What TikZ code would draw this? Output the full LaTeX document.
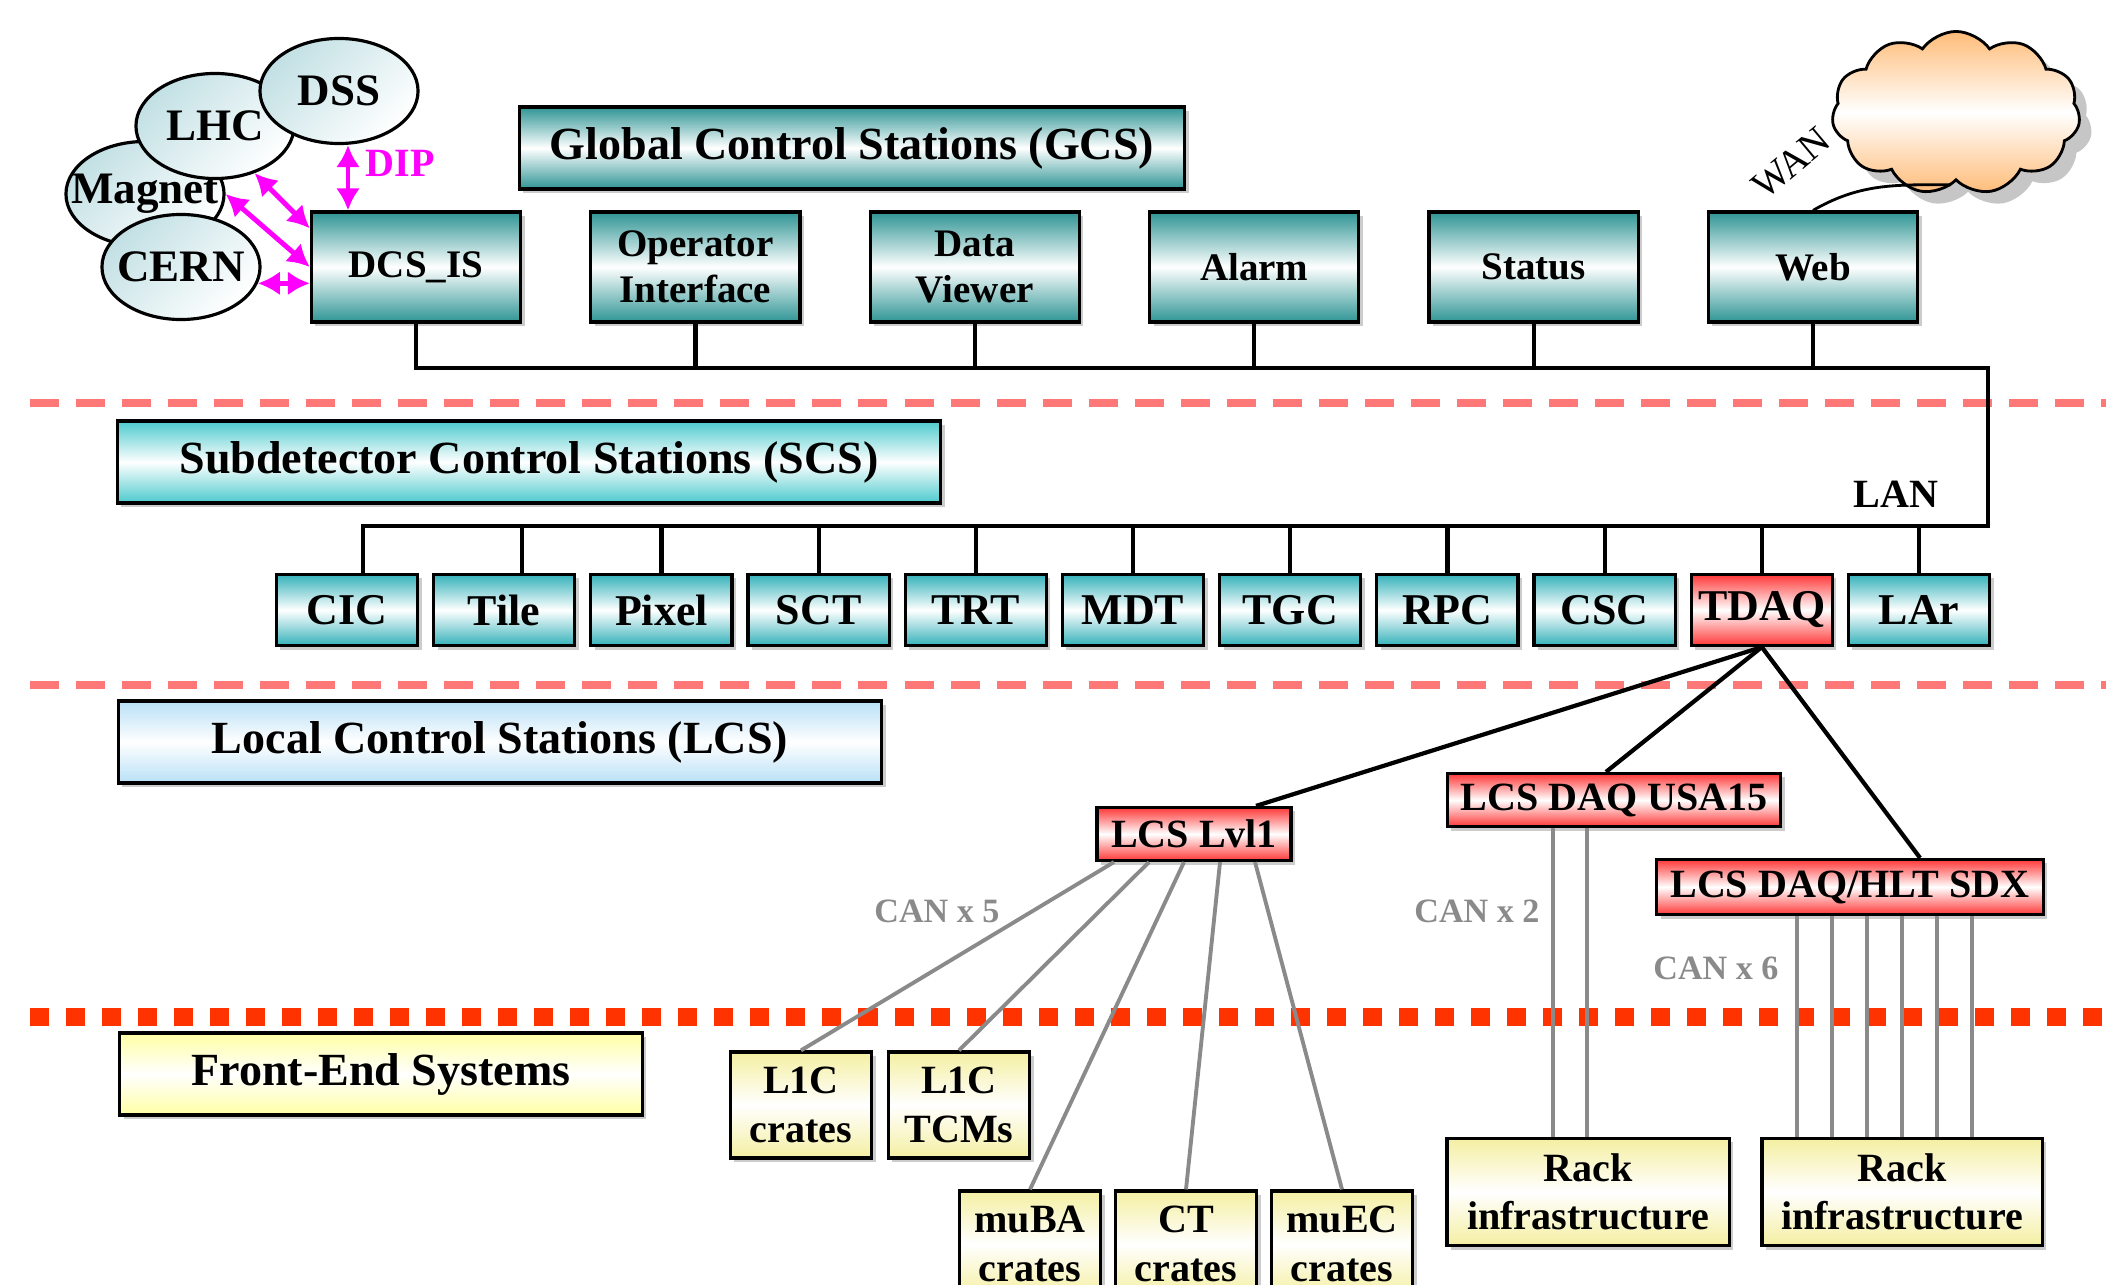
\documentclass[tikz,border=0pt]{standalone}
\usepackage{fontspec}
\setmainfont{Liberation Serif}
\usetikzlibrary{positioning,shadows,shapes.geometric,shapes.symbols,arrows.meta}
\definecolor{gcsteal}{HTML}{2E9494}
\definecolor{scscyan}{HTML}{4CCACD}
\definecolor{sdcyan}{HTML}{35B2BA}
\definecolor{lcsblue}{HTML}{B8E0F6}
\definecolor{daqred}{HTML}{FF3838}
\definecolor{feyellow}{HTML}{F4EFA2}
\definecolor{feheadyellow}{HTML}{FFFFA4}
\definecolor{ellblue}{HTML}{C2E0E4}
\definecolor{dipmag}{HTML}{FF00FF}
\definecolor{cangray}{HTML}{8A8A8A}
\definecolor{zonepink}{HTML}{FF7878}
\definecolor{fered}{HTML}{FF3300}
\definecolor{cloudorange}{HTML}{FFBC78}
\tikzset{
  box/.style={rectangle, draw, line width=0.9pt, inner sep=0pt, align=center,
    drop shadow={shadow xshift=0.04cm, shadow yshift=-0.04cm, opacity=0.4}},
  gcsBox/.style={box, top color=gcsteal, bottom color=gcsteal, middle color=white,
    minimum width=2.09cm, minimum height=1.10cm, font=\fontsize{11.1}{13.1}\selectfont\bfseries},
  sdBox/.style={box, top color=sdcyan, bottom color=sdcyan, middle color=white,
    minimum width=1.41cm, minimum height=0.71cm, font=\fontsize{12.5}{14}\selectfont\bfseries},
  daqBox/.style={sdBox, top color=daqred, bottom color=daqred, middle color=white},
  lcsBox/.style={daqBox, minimum height=0.53cm, font=\fontsize{11.4}{13}\selectfont\bfseries},
  feBox/.style={box, top color=feyellow, bottom color=feyellow, middle color=white,
    minimum width=1.41cm, minimum height=1.06cm, font=\fontsize{11.4}{13.7}\selectfont\bfseries},
  layerHead/.style={box, minimum height=0.82cm, font=\fontsize{13.1}{15}\selectfont\bfseries},
  extSys/.style={ellipse, draw, line width=0.9pt, inner xsep=-0.5cm, inner ysep=0pt,
    minimum width=1.58cm, minimum height=1.05cm, top color=ellblue, bottom color=white,
    shading angle=45, font=\fontsize{12.8}{14}\selectfont\bfseries},
  wanCloud/.style={cloud, cloud puffs=11, cloud puff arc=110, aspect=1.5, draw, line width=0.8pt,
    minimum width=2.48cm, minimum height=1.63cm, top color=cloudorange, bottom color=cloudorange,
    middle color=white, drop shadow={shadow xshift=0.12cm, shadow yshift=-0.12cm, opacity=0.45}},
  dipLink/.style={draw=dipmag, line width=1.4pt, >={Latex[length=0.22cm,width=0.24cm]}, <->},
  lanLine/.style={line width=1.2pt},
  canLine/.style={draw=cangray, line width=1.1pt},
  zoneLine/.style={draw=zonepink, line width=0.08cm, dash pattern=on 0.29cm off 0.17cm},
  feLine/.style={draw=fered, line width=0.18cm, dash pattern=on 0.19cm off 0.17cm},
  canLabel/.style={text=cangray, font=\fontsize{9.7}{11}\selectfont\bfseries},
  plainLabel/.style={font=\fontsize{11.4}{13}\selectfont\bfseries}
}
\begin{document}
\begin{tikzpicture}[x=0.01cm, y=-0.01cm]
\useasboundingbox (0,0) rectangle (2106,1285);

% zone separators
\draw[zoneLine] (30,403) -- (2106,403);
\draw[zoneLine] (30,685) -- (2106,685);
\draw[feLine] (30,1017) -- (2106,1017);

% layer headers
\node[layerHead, top color=gcsteal, bottom color=gcsteal, middle color=white, minimum width=6.65cm] (GCS) at (852,148) {Global Control Stations (GCS)};
\node[layerHead, top color=scscyan, bottom color=scscyan, middle color=white, minimum width=8.23cm] (SCS) at (529,462) {Subdetector Control Stations (SCS)};
\node[layerHead, top color=lcsblue, bottom color=lcsblue, middle color=white, minimum width=7.63cm] (LCS) at (500,742) {Local Control Stations (LCS)};
\node[layerHead, top color=feheadyellow, bottom color=feheadyellow, middle color=white, minimum width=5.22cm] (FE) at (381,1074) {Front-End Systems};

% global stations
\foreach \n/\t [count=\i from 0] in {DCSIS/DCS\_IS, OpInt/{Operator\\Interface}, DataView/{Data\\Viewer}, Alarm/Alarm, Status/Status, Web/Web}
  \node[gcsBox] (\n) at (416+279.4*\i,267) {\t};

% subdetector stations
\foreach \n/\s [count=\i from 0] in {CIC/sdBox, Tile/sdBox, Pixel/sdBox, SCT/sdBox, TRT/sdBox, MDT/sdBox, TGC/sdBox, RPC/sdBox, CSC/sdBox, TDAQ/daqBox, LAr/sdBox}
  \node[\s] (\n) at (347+157.2*\i,610) {\n};

% LAN
\coordinate (gbus) at (1988,368);
\coordinate (sbus) at (1988,526);
\draw[lanLine] (DCSIS.south) |- (gbus) -- (sbus) -| ([xshift=0.16cm]CIC.north);
\foreach \n in {OpInt, DataView, Alarm, Status, Web}
  \draw[lanLine] (\n.south) -- (\n.south |- gbus);
\draw[lanLine] ([xshift=0.18cm]Tile.north) -- ([xshift=0.18cm]Tile.north |- sbus);
\foreach \n in {Pixel, SCT, TRT, MDT, TGC, RPC, CSC, TDAQ, LAr}
  \draw[lanLine] (\n.north) -- (\n.north |- sbus);
\node[plainLabel] (lan) at (1896,494) {LAN};

% local control stations
\node[lcsBox, minimum width=1.94cm] (Lvl1) at (1194,834) {LCS Lvl1};
\node[lcsBox, minimum width=3.33cm] (USA15) at (1614,800) {LCS DAQ USA15};
\node[lcsBox, minimum width=3.86cm, minimum height=0.55cm] (SDX) at (1850,887) {LCS DAQ/HLT SDX};
\draw[lanLine] (TDAQ.south) -- ([xshift=0.62cm]Lvl1.north);
\draw[lanLine] (TDAQ.south) -- ([xshift=-0.08cm]USA15.north);
\draw[lanLine] (TDAQ.south) -- ([xshift=0.70cm]SDX.north);

% front-end
\node[feBox] (L1Ccr) at (801,1105) {L1C\\crates};
\node[feBox] (L1Ctcm) at (959,1105) {L1C\\TCMs};
\node[feBox] (muBA) at (1030,1244) {muBA\\crates};
\node[feBox] (CT) at (1186,1244) {CT\\crates};
\node[feBox] (muEC) at (1342,1244) {muEC\\crates};
\node[feBox, minimum width=2.82cm, minimum height=1.07cm] (Rack1) at (1588,1192) {Rack\\infrastructure};
\node[feBox, minimum width=2.80cm, minimum height=1.07cm] (Rack2) at (1902,1192) {Rack\\infrastructure};

% CAN buses
\foreach \dx/\n in {-0.80/L1Ccr, -0.45/L1Ctcm, -0.10/muBA, 0.26/CT, 0.61/muEC}
  \draw[canLine] ([xshift=\dx cm]Lvl1.south) -- (\n.north);
\foreach \dx in {-0.61,-0.27}
  \draw[canLine] ([xshift=\dx cm]USA15.south) -- ([xshift=\dx cm]USA15.south |- Rack1.north);
\foreach \dx in {-0.53,-0.18,0.17,0.52,0.87,1.22}
  \draw[canLine] ([xshift=\dx cm]SDX.south) -- ([xshift=\dx cm]SDX.south |- Rack2.north);
\node[canLabel] (can5) at (937,911) {CAN x 5};
\node[canLabel] (can2) at (1477,911) {CAN x 2};
\node[canLabel] (can6) at (1716,968) {CAN x 6};

% external systems
\node[extSys] (Magnet) at (145,194) {Magnet};
\node[extSys] (CERN) at (181,267) {CERN};
\node[extSys] (LHC) at (215,126) {LHC};
\node[extSys] (DSS) at (339,91) {DSS};
\draw[dipLink] ([xshift=0.09cm]DSS.south) -- ([xshift=0.09cm]DSS.south |- DCSIS.north);
\draw[dipLink] (LHC.-50) -- ([yshift=-0.18cm]DCSIS.north west);
\draw[dipLink] (Magnet.east) -- (DCSIS.west);
\draw[dipLink] (CERN.-12) -- (CERN.-12 -| DCSIS.west);
\node[plainLabel, text=dipmag] (dip) at (400,163) {DIP};

% WAN
\node[wanCloud] (wan) at (1956,113) {};
\draw[line width=0.8pt] (Web.north) to[out=30, in=180] ([xshift=-0.05cm, yshift=-0.03cm]wan.south);
\node[font=\fontsize{11}{12}\selectfont, rotate=40] (wanTxt) at (1791,163) {WAN};
\end{tikzpicture}
\end{document}
